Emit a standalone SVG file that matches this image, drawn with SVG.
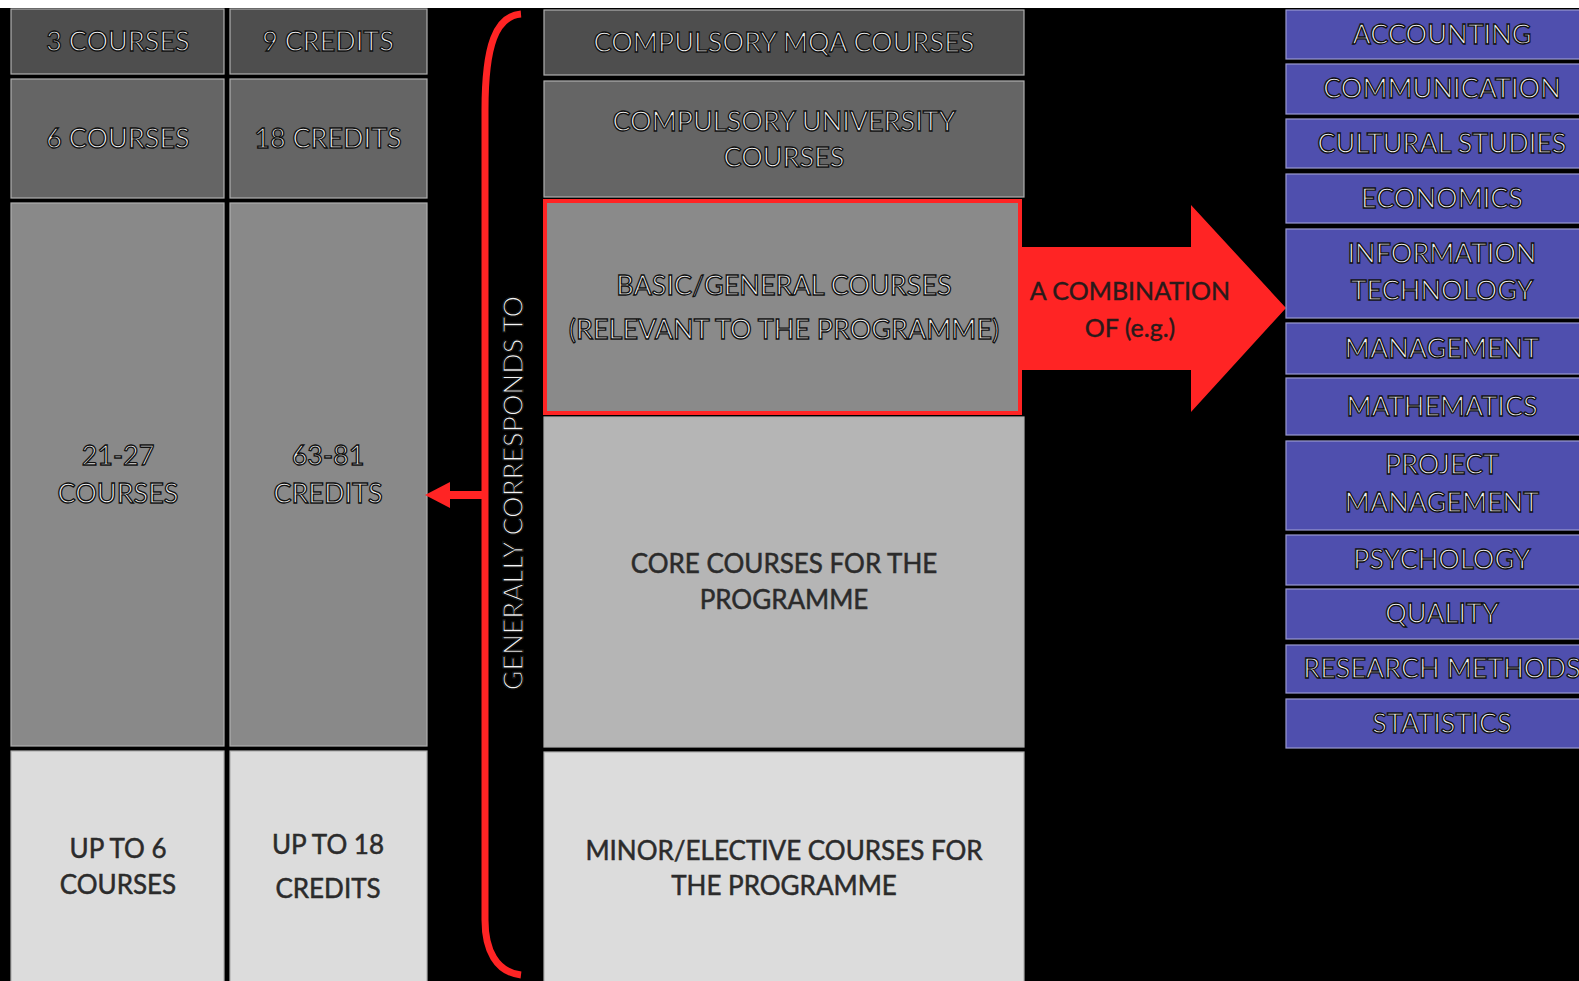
<svg xmlns="http://www.w3.org/2000/svg" width="1579" height="981" viewBox="0 0 1579 981">
<style>
.bx{stroke:#b0b0b0;stroke-width:1.2}
.d1{fill:#4e4e4e}.d2{fill:#656565}.d3{fill:#898989}.d4{fill:#b5b5b5}.d5{fill:#dcdcdc}
.pu{fill:#4f4fae;stroke:#9a9ad0;stroke-width:1.2}
.ot{font-family:Lato,"Liberation Sans",sans-serif;font-size:27px;fill:#f4f4f4;stroke:#111;stroke-width:1.3;text-anchor:middle}
.dt{font-family:Lato,"Liberation Sans",sans-serif;font-size:26px;fill:#2b2b2b;stroke:#2b2b2b;stroke-width:0.5;text-anchor:middle}
.red{fill:#ff2424}
</style>
<rect width="1579" height="981" fill="#000"/>
<rect width="1579" height="8" fill="#fff"/>

<g id="left-courses">
<rect class="bx d1" x="11" y="9" width="213" height="65"/>
<text class="ot" x="118" y="51">3 COURSES</text>
<rect class="bx d2" x="11" y="79" width="213" height="119"/>
<text class="ot" x="118" y="148">6 COURSES</text>
<rect class="bx d3" x="11" y="203" width="213" height="543"/>
<text class="ot" x="118" y="465">21-27</text>
<text class="ot" x="118" y="503">COURSES</text>
<rect class="bx d5" x="11" y="751" width="213" height="235"/>
<text class="dt" x="118" y="858">UP TO 6</text>
<text class="dt" x="118" y="894">COURSES</text>
</g>

<g id="left-credits">
<rect class="bx d1" x="230" y="9" width="197" height="65"/>
<text class="ot" x="328" y="51">9 CREDITS</text>
<rect class="bx d2" x="230" y="79" width="197" height="119"/>
<text class="ot" x="328" y="148">18 CREDITS</text>
<rect class="bx d3" x="230" y="203" width="197" height="543"/>
<text class="ot" x="328" y="465">63-81</text>
<text class="ot" x="328" y="503">CREDITS</text>
<rect class="bx d5" x="230" y="751" width="197" height="235"/>
<text class="dt" x="328" y="854">UP TO 18</text>
<text class="dt" x="328" y="898">CREDITS</text>
</g>

<g id="middle">
<rect class="bx d1" x="544" y="10" width="480" height="65"/>
<text class="ot" x="784" y="52">COMPULSORY MQA COURSES</text>
<rect class="bx d2" x="544" y="81" width="480" height="116"/>
<text class="ot" x="784" y="131">COMPULSORY UNIVERSITY</text>
<text class="ot" x="784" y="167">COURSES</text>
<rect class="bx d4" x="544" y="417" width="480" height="330"/>
<text class="dt" x="784" y="573">CORE COURSES FOR THE</text>
<text class="dt" x="784" y="609">PROGRAMME</text>
<rect class="bx d5" x="544" y="752" width="480" height="235"/>
<text class="dt" x="784" y="860">MINOR/ELECTIVE COURSES FOR</text>
<text class="dt" x="784" y="895">THE PROGRAMME</text>
</g>

<g id="basic">
<rect x="545" y="201" width="475" height="212" fill="#8a8a8a" stroke="#ff2424" stroke-width="4"/>
<text class="ot" x="784" y="295">BASIC/GENERAL COURSES</text>
<text class="ot" x="784" y="339">(RELEVANT TO THE PROGRAMME)</text>
</g>

<g id="connectors">
<path d="M521,14 C496,16 485,45 485,110 L485,920 C485,950 496,972 521,975" fill="none" stroke="#ff2424" stroke-width="7"/>
<path d="M485,495 L448,495" stroke="#ff2424" stroke-width="8"/>
<polygon class="red" points="425,495 450,482 450,508"/>
<polygon class="red" points="1020,247 1191,247 1191,205 1286,308 1191,412 1191,370 1020,370"/>
<text font-family="Lato,'Liberation Sans',sans-serif" font-size="25" fill="#2a1a1a" stroke="#2a1a1a" stroke-width="0.4" text-anchor="middle" x="1130" y="300">A COMBINATION</text>
<text font-family="Lato,'Liberation Sans',sans-serif" font-size="25" fill="#2a1a1a" stroke="#2a1a1a" stroke-width="0.4" text-anchor="middle" x="1130" y="337">OF (e.g.)</text>
<text class="ot" transform="translate(523,493) rotate(-90)" x="0" y="0">GENERALLY CORRESPONDS TO</text>
</g>

<g id="subjects">
<rect class="pu" x="1286" y="10" width="320" height="49"/>
<text class="ot" x="1442" y="44">ACCOUNTING</text>
<rect class="pu" x="1286" y="64" width="320" height="50"/>
<text class="ot" x="1442" y="98">COMMUNICATION</text>
<rect class="pu" x="1286" y="119" width="320" height="49"/>
<text class="ot" x="1442" y="153">CULTURAL STUDIES</text>
<rect class="pu" x="1286" y="174" width="320" height="49"/>
<text class="ot" x="1442" y="208">ECONOMICS</text>
<rect class="pu" x="1286" y="229" width="320" height="89"/>
<text class="ot" x="1442" y="263">INFORMATION</text>
<text class="ot" x="1442" y="300">TECHNOLOGY</text>
<rect class="pu" x="1286" y="323" width="320" height="51"/>
<text class="ot" x="1442" y="358">MANAGEMENT</text>
<rect class="pu" x="1286" y="378" width="320" height="57"/>
<text class="ot" x="1442" y="416">MATHEMATICS</text>
<rect class="pu" x="1286" y="441" width="320" height="89"/>
<text class="ot" x="1442" y="474">PROJECT</text>
<text class="ot" x="1442" y="512">MANAGEMENT</text>
<rect class="pu" x="1286" y="535" width="320" height="50"/>
<text class="ot" x="1442" y="569">PSYCHOLOGY</text>
<rect class="pu" x="1286" y="589" width="320" height="50"/>
<text class="ot" x="1442" y="623">QUALITY</text>
<rect class="pu" x="1286" y="645" width="320" height="48"/>
<text class="ot" x="1442" y="678">RESEARCH METHODS</text>
<rect class="pu" x="1286" y="699" width="320" height="49"/>
<text class="ot" x="1442" y="733">STATISTICS</text>
</g>
</svg>
